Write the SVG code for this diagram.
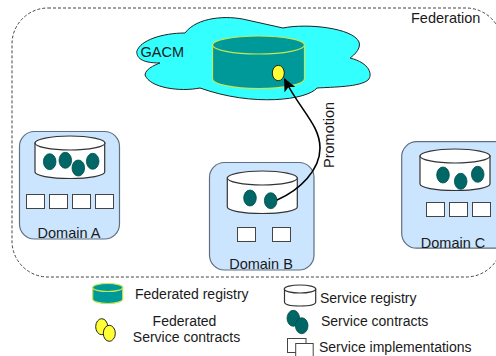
<svg xmlns="http://www.w3.org/2000/svg" width="496" height="356" viewBox="0 0 496 356">
<style>
text{font-family:"Liberation Sans",Arial,sans-serif;font-size:14px;fill:#1a1a1a}
.l{font-size:14.5px}
.m{text-anchor:middle}
.dom{fill:#cce5ff;stroke:#5f6f80;stroke-width:1.2}
.cyl{fill:#fff;stroke:#333;stroke-width:1.2}
.fcyl{fill:#009999;stroke:#c8e650;stroke-width:1.2}
.sc{fill:#006666;stroke:#004d4d;stroke-width:.8}
.fc{fill:#ffff33;stroke:#222;stroke-width:1}
.impl{fill:#fff;stroke:#444;stroke-width:1}
</style>
<defs>
<marker id="arr" markerUnits="userSpaceOnUse" markerWidth="14" markerHeight="12" refX="12" refY="6" orient="auto"><path d="M0 0L13 6L0 12L3 6Z" fill="#000"/></marker>
</defs>
<g id="federation">
<rect x="12" y="8" width="490" height="269" rx="36" fill="none" stroke="#444" stroke-width="1" stroke-dasharray="3 2"/>
<text class="l" x="411" y="23">Federation</text>
</g>
<g id="gacm">
<path d="M136.7 51.7C140 40 163 33 185 33C197 17 227 15 247 20L283 28C307 23 353 28 359 42C362 50 350 58 350 58C370 63 373 75 368 80C360 87 333 87 317 88C307 100 253 107 200 88C180 92 150 88 145 75C145 68 160 63 160 63C140 63 137 57 136.7 51.7Z" fill="#33ffff" stroke="#222" stroke-width="1"/>
<path class="fcyl" d="M212.5 45V79C212.5 84 233 88.5 258.5 88.5S304.5 84 304.5 79V45Z"/>
<ellipse class="fcyl" cx="258.5" cy="45" rx="46" ry="9"/>
<ellipse class="fc" cx="278.3" cy="73" rx="6" ry="7.7"/>
<text class="l" x="140.5" y="56.7">GACM</text>
</g>
<g id="domain-a">
<rect class="dom" x="19.5" y="131.5" width="100" height="107.5" rx="15"/>
<path class="cyl" d="M35 143V172C35 175.500 50 178.500 70 178.500S104.700 175.500 104.700 172V143Z"/>
<ellipse class="cyl" cx="70" cy="143" rx="35" ry="7"/>
<ellipse class="sc" cx="49.700" cy="161.700" rx="6.300" ry="8"/>
<ellipse class="sc" cx="65.300" cy="160.300" rx="6.300" ry="8"/>
<ellipse class="sc" cx="78.300" cy="168" rx="6.300" ry="8"/>
<ellipse class="sc" cx="92.700" cy="161.300" rx="6.300" ry="8"/>
<rect class="impl" x="26.500" y="194.500" width="18" height="14"/>
<rect class="impl" x="49.500" y="194.500" width="18" height="14"/>
<rect class="impl" x="72.500" y="194.500" width="18" height="14"/>
<rect class="impl" x="95.500" y="194.500" width="18" height="14"/>
<text class="m l" x="69" y="238">Domain A</text>
</g>
<g id="domain-b">
<rect class="dom" x="209.500" y="162.500" width="104.500" height="107.500" rx="15"/>
<path class="cyl" d="M227.300 178V207C227.300 210.500 242 213.500 262.300 213.500S297.300 210.500 297.300 207V178Z"/>
<ellipse class="cyl" cx="262.300" cy="178" rx="35" ry="7"/>
<ellipse class="sc" cx="250" cy="198" rx="6.300" ry="8"/>
<ellipse class="sc" cx="270.700" cy="200.700" rx="6.300" ry="8"/>
<rect class="impl" x="237.500" y="227.500" width="18" height="14"/>
<rect class="impl" x="272.500" y="227.500" width="18" height="14"/>
<text class="m l" x="261" y="269">Domain B</text>
</g>
<g id="domain-c">
<rect class="dom" x="401.700" y="141.700" width="110" height="106.500" rx="15"/>
<path class="cyl" d="M420 156V184C420 187.500 435 190.500 455 190.500S490 187.500 490 184V156Z"/>
<ellipse class="cyl" cx="455" cy="156" rx="35" ry="7"/>
<ellipse class="sc" cx="443" cy="175" rx="6.300" ry="8"/>
<ellipse class="sc" cx="460.700" cy="181.300" rx="6.300" ry="8"/>
<ellipse class="sc" cx="477.700" cy="174.300" rx="6.300" ry="8"/>
<rect class="impl" x="426.500" y="202.500" width="18" height="14"/>
<rect class="impl" x="449.500" y="202.500" width="18" height="14"/>
<rect class="impl" x="472.500" y="202.500" width="18" height="14"/>
<text class="m l" x="453" y="247.700">Domain C</text>
</g>
<g id="connectors">
<path d="M277 200C300 190 320 170 320 148C320 125 300 110 284.500 79" fill="none" stroke="#000" stroke-width="1.600" marker-end="url(#arr)"/>
<text class="l" transform="translate(334 168) rotate(-90)">Promotion</text>
</g>
<g id="legend">
<path class="fcyl" d="M92.700 287.500V299C92.700 301.500 99 303.500 107.700 303.500S122.700 301.500 122.700 299V287.500Z"/>
<ellipse class="fcyl" cx="107.700" cy="287.500" rx="15" ry="4"/>
<text x="135" y="299.300">Federated registry</text>
<ellipse class="fc" cx="101.700" cy="326.700" rx="6" ry="8"/>
<ellipse class="fc" cx="109.300" cy="333.300" rx="6" ry="8"/>
<text class="m" x="184.500" y="325.700">Federated</text>
<text class="m" x="186.500" y="341.700">Service contracts</text>
<path class="cyl" d="M284.500 289V302C284.500 304.500 291 306 300 306S315.700 304.500 315.700 302V289Z"/>
<ellipse class="cyl" cx="300" cy="289" rx="15.700" ry="4"/>
<text x="320" y="302.700">Service registry</text>
<ellipse class="sc" cx="293.300" cy="318.300" rx="6.300" ry="8"/>
<ellipse class="sc" cx="301.700" cy="325.700" rx="6.300" ry="8"/>
<text x="321" y="326">Service contracts</text>
<rect class="impl" x="287.500" y="338.500" width="18.500" height="14"/>
<rect class="impl" x="295.700" y="343.500" width="17.500" height="20"/>
<text x="319" y="351.700">Service implementations</text>
</g>
</svg>
